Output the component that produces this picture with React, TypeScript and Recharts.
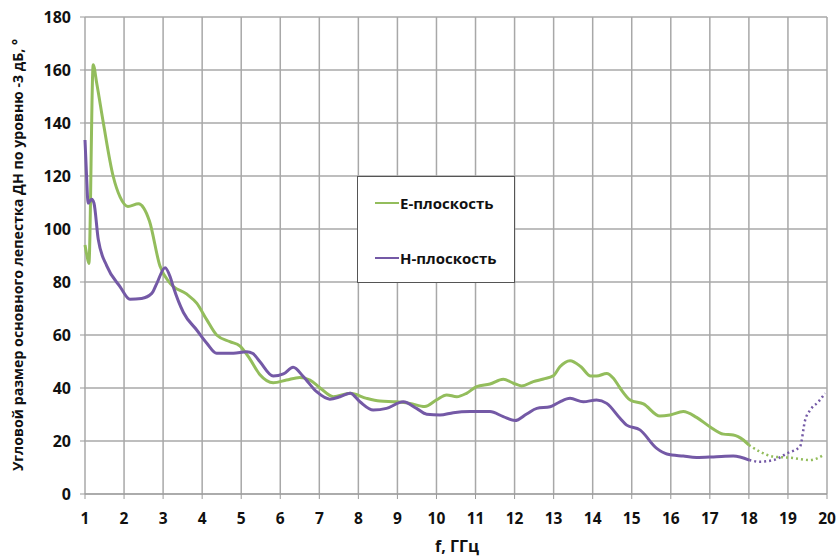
import React from 'react';
import { LineChart, Line, XAxis, YAxis, CartesianGrid, Legend } from 'recharts';

const xTicks = [1, 2, 3, 4, 5, 6, 7, 8, 9, 10, 11, 12, 13, 14, 15, 16, 17, 18, 19, 20];
const yTicks = [0, 20, 40, 60, 80, 100, 120, 140, 160, 180];

const ePlaneSolid: [number, number][] = [
  [1.0, 94], [1.05, 90], [1.1, 87], [1.21, 162], [1.3, 155], [1.47, 140], [1.72, 120], [1.9, 112],
  [2.1, 108.5], [2.37, 109.5], [2.5, 108], [2.65, 103], [2.92, 86], [3.18, 79.5], [3.6, 75.5],
  [3.86, 72], [4.12, 65.7], [4.37, 60], [4.71, 57.5], [4.97, 55.8], [5.22, 51], [5.48, 45],
  [5.82, 42], [6.16, 43], [6.5, 44], [6.76, 43], [7.02, 40], [7.36, 36.7], [7.79, 38], [8.21, 36.1],
  [8.55, 35.1], [8.98, 34.8], [9.32, 34.2], [9.7, 33], [10.0, 35.5], [10.26, 37.4], [10.52, 36.7],
  [10.77, 38], [11.03, 40.5], [11.37, 41.5], [11.71, 43.3], [11.97, 41.8], [12.18, 40.8],
  [12.48, 42.4], [12.74, 43.4], [12.99, 44.6], [13.16, 48], [13.42, 50.3], [13.7, 48], [13.95, 44.5],
  [14.1, 44.5], [14.36, 45.5], [14.53, 43.7], [14.7, 40], [14.96, 35.5], [15.3, 34], [15.72, 29.4],
  [15.98, 29.8], [16.32, 31.1], [16.66, 28.9], [17.0, 25.4], [17.35, 22.6], [17.6, 22.3],
  [17.86, 20.4], [18.0, 18.5],
];
const ePlaneDotted: [number, number][] = [
  [18.0, 18.5], [18.28, 16], [18.63, 14.1], [19.05, 13.7], [19.57, 12.8], [19.91, 14.7],
];
const hPlaneSolid: [number, number][] = [
  [1.0, 133.6], [1.04, 120], [1.08, 109.7], [1.17, 111.2], [1.23, 109.7], [1.34, 96], [1.56, 86],
  [1.9, 78.2], [2.15, 73.5], [2.45, 73.8], [2.71, 75.7], [2.84, 79.5], [3.05, 85.4], [3.18, 82],
  [3.26, 78.2], [3.52, 68.5], [3.86, 61.9], [4.12, 56.9], [4.37, 53.1], [4.8, 53.1], [5.14, 53.7],
  [5.3, 53], [5.48, 49.9], [5.82, 44.5], [6.08, 45.3], [6.33, 47.8], [6.59, 44.3], [6.93, 38.6],
  [7.27, 35.8], [7.53, 36.7], [7.79, 38], [8.04, 34.8], [8.38, 31.7], [8.72, 32.3], [9.15, 34.8],
  [9.49, 32.3], [9.75, 30.1], [10.09, 29.8], [10.43, 30.7], [10.86, 31.1], [11.37, 31.1],
  [11.71, 29.2], [12.01, 27.7], [12.31, 30.2], [12.57, 32.3], [12.91, 32.9], [13.16, 34.8],
  [13.42, 36.1], [13.76, 34.8], [14.1, 35.5], [14.36, 34.2], [14.7, 28.6], [14.87, 26], [15.21, 24.2],
  [15.64, 17.2], [15.9, 15.1], [16.32, 14.3], [16.66, 13.8], [17.17, 14.1], [17.6, 14.3], [18.01, 12.8],
];
const hPlaneDotted: [number, number][] = [
  [18.01, 12.8], [18.28, 12.2], [18.63, 12.8], [18.97, 15.3], [19.31, 17.9], [19.44, 27.9],
  [19.57, 31.7], [19.78, 34.8], [19.95, 38],
];

const seriesNames = ['Е-плоскость', 'Н-плоскость'];
const GREEN = '#93bd5c';
const PURPLE = '#7459a6';

const toRows = (pts: [number, number][]) => pts.map(([f, v]) => ({ f, v }));

const FONT = '"Open Sans", "Noto Sans", sans-serif';

const LegendBox = () => (
  <div
    style={{
      width: 158,
      height: 107,
      boxSizing: 'border-box',
      border: '1px solid #555',
      background: '#fff',
      position: 'relative',
      fontFamily: FONT,
      fontWeight: 700,
      fontSize: 15,
      color: '#111',
    }}
  >
    {seriesNames.map((n, i) => (
      <div
        key={n}
        style={{ position: 'absolute', left: 17, top: i === 0 ? 16 : 71, display: 'flex', alignItems: 'center' }}
      >
        <span style={{ display: 'inline-block', width: 24, height: 2.5, background: i === 0 ? GREEN : PURPLE }} />
        <span style={{ marginLeft: 1 }}>{n}</span>
      </div>
    ))}
  </div>
);

export default function App() {
  return (
    <div style={{ position: 'absolute', left: 0, top: 0, width: 838, height: 558, background: '#fff' }}>
      <LineChart width={838} height={558} margin={{ top: 17, right: 11, left: 25, bottom: 0 }}>
        <CartesianGrid stroke="#a8a8a8" strokeWidth={1.5} />
        <XAxis
          type="number"
          dataKey="f"
          domain={[1, 20]}
          ticks={xTicks}
          allowDuplicatedCategory={false}
          height={64}
          stroke="#999"
          tickSize={5}
          tickMargin={14}
          tick={{ fill: '#111', fontFamily: FONT, fontWeight: 700, fontSize: 15.5 }}
          label={{
            content: () => (
              <text x={457} y={552} textAnchor="middle" fill="#111" style={{ fontFamily: FONT, fontWeight: 700, fontSize: 16 }}>
                f, ГГц
              </text>
            ),
          }}
        />
        <YAxis
          type="number"
          dataKey="v"
          domain={[0, 180]}
          ticks={yTicks}
          width={60}
          stroke="#999"
          axisLine={false}
          tickSize={5}
          tickMargin={9}
          tick={{ fill: '#111', fontFamily: FONT, fontWeight: 700, fontSize: 16 }}
          label={{
            content: () => (
              <text
                x={23}
                y={255}
                transform="rotate(-90 23 255)"
                textAnchor="middle"
                fill="#111"
                style={{ fontFamily: FONT, fontWeight: 700, fontSize: 14.2 }}
              >
                Угловой размер основного лепестка ДН по уровню -3 дБ, °
              </text>
            ),
          }}
        />
        <Legend
          layout="vertical"
          align="center"
          verticalAlign="middle"
          wrapperStyle={{ position: 'absolute', left: 357, top: 176, width: 158, height: 107 }}
          content={() => <LegendBox />}
        />
        <Line data={toRows(ePlaneSolid)} dataKey="v" type="monotone" stroke={GREEN} strokeWidth={3} dot={false} isAnimationActive={false} name={seriesNames[0]} />
        <Line data={toRows(hPlaneSolid)} dataKey="v" type="monotone" stroke={PURPLE} strokeWidth={3} dot={false} isAnimationActive={false} name={seriesNames[1]} />
        <Line data={toRows(ePlaneDotted)} dataKey="v" type="monotone" stroke={GREEN} strokeWidth={2.5} strokeDasharray="2 3" dot={false} isAnimationActive={false} legendType="none" />
        <Line data={toRows(hPlaneDotted)} dataKey="v" type="monotone" stroke={PURPLE} strokeWidth={2.5} strokeDasharray="2 3" dot={false} isAnimationActive={false} legendType="none" />
      </LineChart>
    </div>
  );
}
